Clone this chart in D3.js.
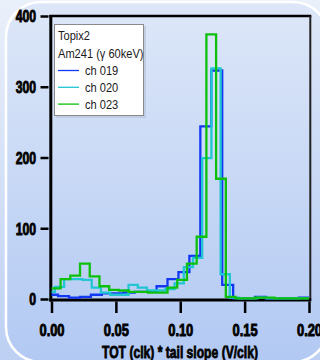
<!DOCTYPE html>
<html>
<head>
<meta charset="utf-8">
<script src="https://cdn.jsdelivr.net/npm/d3@7"></script>
<style>
  html, body { margin: 0; padding: 0; background: #dfe8f8; }
  svg { display: block; }
</style>
</head>
<body>
<svg id="chart" width="320" height="360"></svg>
<script>
// Axis ticks
const xTickValues = [0, 0.05, 0.10, 0.15, 0.20];
const xTickLabels = ["0.00", "0.05", "0.10", "0.15", "0.20"];
const yTickValues = [0, 100, 200, 300, 400];
const yTickLabels = ["0", "100", "200", "300", "400"];

// Legend
const legendTitle = ["Topix2", "Am241 (\u03b3 60keV)"];
const seriesNames = ["ch 019", "ch 020", "ch 023"];
const seriesColors = ["#1238f4", "#22c6d2", "#0cc00c"];

// Histogram bins: first bin edge, bin width and counts per channel
const ch019Start = -0.0034;
const ch019Width = 0.0085;
const ch019Counts = [6, 4, 2, 3, 6, 8, 8, 9, 10, 10, 18, 28, 38, 61, 244, 323, 20, 1, 1, 3, 1, 1, 1, 2];

const ch020Start = -0.0045;
const ch020Width = 0.00715;
const ch020Counts = [10, 17, 28, 28, 27, 16, 9, 6, 6, 20, 16, 12, 12, 14, 22, 45, 58, 199, 326, 35, 2, 1, 1, 2, 1, 1, 1, 1, 1];

const ch023Start = -0.0005;
const ch023Width = 0.00755;
const ch023Counts = [15, 28, 33, 50, 32, 18, 13, 12, 10, 10, 9, 9, 16, 27, 50, 88, 374, 170, 3, 1, 1, 2, 2, 1, 1, 1, 1];

const svg = d3.select("#chart");
const W = 320, H = 360;

const x = d3.scaleLinear().domain([0, 0.2]).range([51.5, 309]);
const y = d3.scaleLinear().domain([0, 400]).range([299, 16]);

// Background and rounded panel
const defs = svg.append("defs");
const g1 = defs.append("linearGradient").attr("id", "bg").attr("x1", 0).attr("y1", 0).attr("x2", 0).attr("y2", 1);
g1.append("stop").attr("offset", "0%").attr("stop-color", "#eaf0fa");
g1.append("stop").attr("offset", "100%").attr("stop-color", "#bdd0f3");
const g2 = defs.append("linearGradient").attr("id", "panel").attr("x1", 0).attr("y1", 0).attr("x2", 0).attr("y2", 1);
g2.append("stop").attr("offset", "0%").attr("stop-color", "#dde7f8");
g2.append("stop").attr("offset", "100%").attr("stop-color", "#b2c9f3");

svg.append("rect").attr("width", W).attr("height", H).attr("fill", "url(#bg)");
svg.append("rect")
  .attr("x", 6).attr("y", 2).attr("width", 322).attr("height", 360)
  .attr("rx", 35).attr("ry", 35)
  .attr("fill", "url(#panel)")
  .attr("stroke", "#ffffff").attr("stroke-width", 2.5);

defs.append("clipPath").attr("id", "plotClip")
  .append("rect").attr("x", x(0)).attr("y", 10).attr("width", x(0.2) - x(0)).attr("height", 292);

// Frame: top and right edges
svg.append("line").attr("x1", 49.3).attr("x2", 311.3).attr("y1", 16).attr("y2", 16)
  .attr("stroke", "#000").attr("stroke-width", 2.5);
svg.append("line").attr("x1", 310.3).attr("x2", 310.3).attr("y1", 16).attr("y2", 300)
  .attr("stroke", "#222").attr("stroke-width", 2);

// Axis lines
svg.append("line").attr("x1", 50.8).attr("x2", 50.8).attr("y1", 15).attr("y2", 301.5)
  .attr("stroke", "#000").attr("stroke-width", 3);
svg.append("line").attr("x1", 49.3).attr("x2", 311.3).attr("y1", 300).attr("y2", 300)
  .attr("stroke", "#000").attr("stroke-width", 3);

const tickFont = "'Liberation Sans', Arial, sans-serif";

function squeeze(sel, ratio) {
  sel.each(function () {
    const n = this.getComputedTextLength();
    d3.select(this).attr("textLength", n * ratio).attr("lengthAdjust", "spacingAndGlyphs");
  });
}

// Y axis
const yAxis = svg.append("g").attr("transform", "translate(48.5,0)")
  .call(d3.axisLeft(y).tickValues(yTickValues).tickFormat((d, i) => yTickLabels[i]).tickSize(8).tickPadding(4));
yAxis.select(".domain").remove();
yAxis.selectAll(".tick line").attr("stroke", "#000").attr("stroke-width", 2.5);
yAxis.selectAll(".tick text")
  .attr("font-family", tickFont).attr("font-weight", "bold").attr("font-size", 16.5)
  .attr("fill", "#000").attr("x", -12.5).attr("dy", "0.36em")
  .attr("stroke", "#000").attr("stroke-width", 0.9);
squeeze(yAxis.selectAll(".tick text"), 0.74);

// X axis
const xAxis = svg.append("g").attr("transform", "translate(0,301.5)")
  .call(d3.axisBottom(x).tickValues(xTickValues).tickFormat((d, i) => xTickLabels[i]).tickSize(11.5).tickPadding(4));
xAxis.select(".domain").remove();
xAxis.selectAll(".tick line").attr("stroke", "#000").attr("stroke-width", 2.5);
xAxis.selectAll(".tick text")
  .attr("font-family", tickFont).attr("font-weight", "bold").attr("font-size", 16.5)
  .attr("fill", "#000").attr("y", 28.3).attr("dy", "0.36em")
  .attr("stroke", "#000").attr("stroke-width", 0.9);
squeeze(xAxis.selectAll(".tick text"), 0.78);

// Axis title
const xTitle = svg.append("text")
  .attr("x", 180).attr("y", 358).attr("text-anchor", "middle")
  .attr("font-family", tickFont).attr("font-weight", "bold").attr("font-size", 16.5)
  .attr("fill", "#000").attr("stroke", "#000").attr("stroke-width", 0.8)
  .text("TOT (clk) * tail slope (V/clk)");
xTitle.attr("textLength", 156).attr("lengthAdjust", "spacingAndGlyphs");

// Step histograms
function binPoints(start, width, counts) {
  const pts = counts.map((c, k) => [start + k * width, c]);
  pts.push([start + counts.length * width, counts[counts.length - 1]]);
  return pts;
}
const series = [
  { name: seriesNames[0], color: seriesColors[0], pts: binPoints(ch019Start, ch019Width, ch019Counts) },
  { name: seriesNames[1], color: seriesColors[1], pts: binPoints(ch020Start, ch020Width, ch020Counts) },
  { name: seriesNames[2], color: seriesColors[2], pts: binPoints(ch023Start, ch023Width, ch023Counts) }
];
const stepLine = d3.line().x(d => x(d[0])).y(d => y(d[1])).curve(d3.curveStepAfter);

svg.append("g").attr("clip-path", "url(#plotClip)")
  .selectAll("path").data(series).join("path")
  .attr("d", d => stepLine(d.pts))
  .attr("fill", "none")
  .attr("stroke", d => d.color)
  .attr("stroke-width", 2.3)
  .attr("stroke-linejoin", "miter");

// Legend
const lg = svg.append("g");
lg.append("rect").attr("x", 56).attr("y", 26).attr("width", 90).attr("height", 92).attr("fill", "#b8c4d8").attr("opacity", 0.7);
lg.append("rect").attr("x", 54.5).attr("y", 24.5).attr("width", 89).attr("height", 91)
  .attr("fill", "#ffffff").attr("stroke", "#8a8a8a").attr("stroke-width", 1);
const legendFont = "'Liberation Sans', Arial, sans-serif";
const titleRows = lg.selectAll("text.title").data(legendTitle).join("text")
  .attr("class", "title")
  .attr("x", 58).attr("y", (d, i) => 40 + i * 18)
  .attr("font-family", legendFont).attr("font-size", 13.5).attr("fill", "#1a1a1a")
  .text(d => d);
squeeze(titleRows, 0.82);
const rows = lg.selectAll("g.row").data(series).join("g").attr("class", "row")
  .attr("transform", (d, i) => `translate(0,${70.5 + i * 16.8})`);
rows.append("line").attr("x1", 58).attr("x2", 79).attr("y1", 0).attr("y2", 0)
  .attr("stroke", d => d.color).attr("stroke-width", 1.3);
const rowText = rows.append("text").attr("x", 85).attr("y", 4.8)
  .attr("font-family", legendFont).attr("font-size", 13.5).attr("fill", "#1a1a1a")
  .text(d => d.name);
squeeze(rowText, 0.82);
</script>
</body>
</html>
